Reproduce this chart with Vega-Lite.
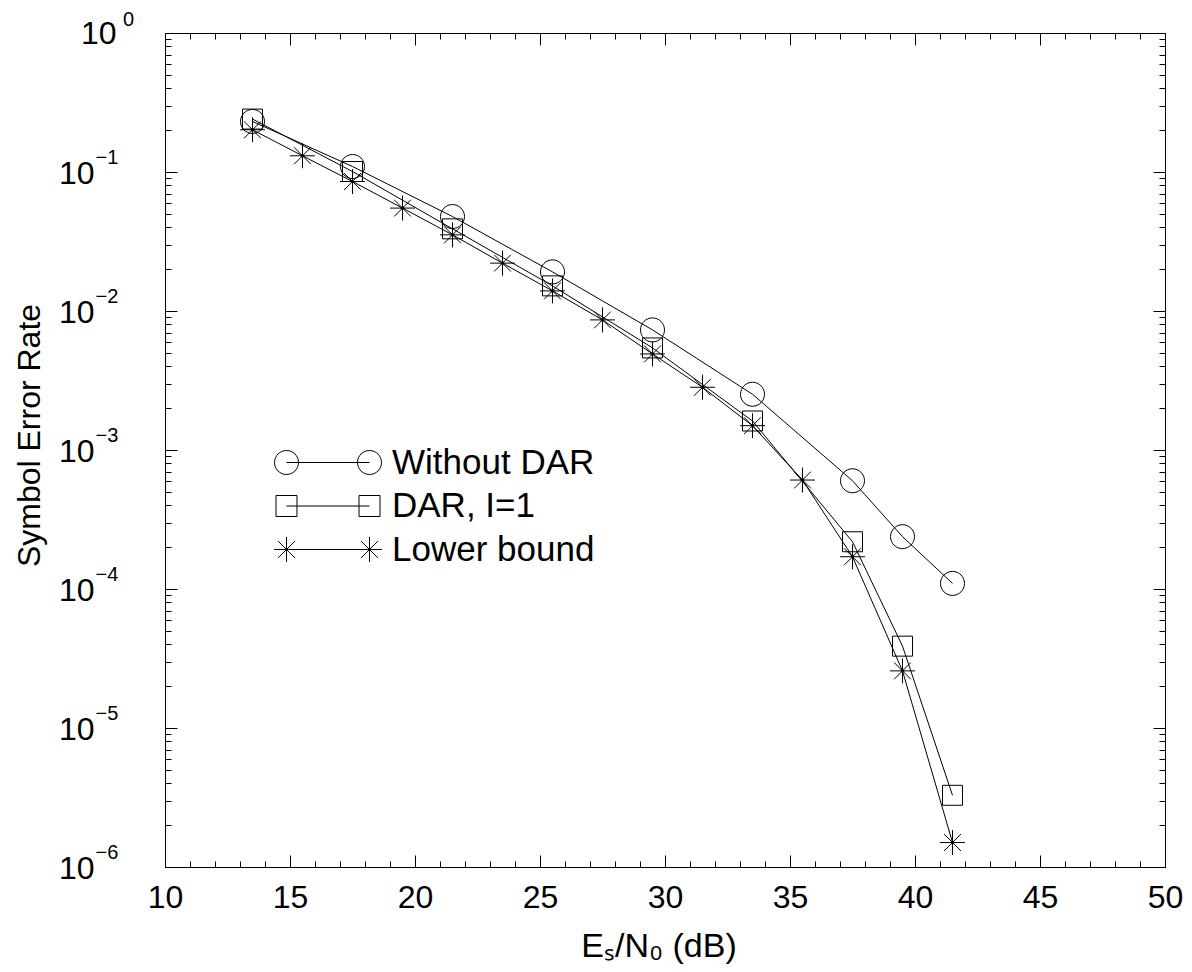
{
  "$schema": "https://vega.github.io/schema/vega-lite/v6.json",
  "autosize": "none",
  "width": 1000,
  "height": 834,
  "padding": {"left": 165, "top": 33, "right": 27, "bottom": 105},
  "background": "white",
  "data": {"values": [
    {"series": "Without DAR", "snr": 13.5, "ser": 0.2310},
    {"series": "Without DAR", "snr": 17.5, "ser": 0.1095},
    {"series": "Without DAR", "snr": 21.5, "ser": 0.0478},
    {"series": "Without DAR", "snr": 25.5, "ser": 0.01912},
    {"series": "Without DAR", "snr": 29.5, "ser": 0.00731},
    {"series": "Without DAR", "snr": 33.5, "ser": 0.002518},
    {"series": "Without DAR", "snr": 37.5, "ser": 0.000601},
    {"series": "Without DAR", "snr": 39.5, "ser": 0.000238},
    {"series": "Without DAR", "snr": 41.5, "ser": 0.0001097},
    {"series": "DAR, I=1", "snr": 13.5, "ser": 0.2403},
    {"series": "DAR, I=1", "snr": 17.5, "ser": 0.1008},
    {"series": "DAR, I=1", "snr": 21.5, "ser": 0.0390},
    {"series": "DAR, I=1", "snr": 25.5, "ser": 0.01516},
    {"series": "DAR, I=1", "snr": 29.5, "ser": 0.005425},
    {"series": "DAR, I=1", "snr": 33.5, "ser": 0.001617},
    {"series": "DAR, I=1", "snr": 37.5, "ser": 0.0002187},
    {"series": "DAR, I=1", "snr": 39.5, "ser": 0.0000388},
    {"series": "DAR, I=1", "snr": 41.5, "ser": 0.00000328},
    {"series": "Lower bound", "snr": 13.5, "ser": 0.2012},
    {"series": "Lower bound", "snr": 15.5, "ser": 0.1308},
    {"series": "Lower bound", "snr": 17.5, "ser": 0.0854},
    {"series": "Lower bound", "snr": 19.5, "ser": 0.0550},
    {"series": "Lower bound", "snr": 21.5, "ser": 0.0353},
    {"series": "Lower bound", "snr": 23.5, "ser": 0.0221},
    {"series": "Lower bound", "snr": 25.5, "ser": 0.01395},
    {"series": "Lower bound", "snr": 27.5, "ser": 0.00863},
    {"series": "Lower bound", "snr": 29.5, "ser": 0.00491},
    {"series": "Lower bound", "snr": 31.5, "ser": 0.002828},
    {"series": "Lower bound", "snr": 33.5, "ser": 0.001496},
    {"series": "Lower bound", "snr": 35.5, "ser": 0.000608},
    {"series": "Lower bound", "snr": 37.5, "ser": 0.0001706},
    {"series": "Lower bound", "snr": 39.5, "ser": 0.00002576},
    {"series": "Lower bound", "snr": 41.5, "ser": 0.0000015}
  ]},
  "resolve": {"axis": {"x": "independent", "y": "independent"}, "scale": {"shape": "independent"}},
  "layer": [
    {
      "mark": {"type": "point", "opacity": 0},
      "encoding": {
        "x": {"field": "snr", "type": "quantitative", "scale": {"domain": [10, 50], "nice": false, "zero": false},
          "axis": {"orient": "bottom", "values": [10, 15, 20, 25, 30, 35, 40, 45, 50], "ticks": false, "tickSize": 0, "domain": false,
            "labelFontSize": 32, "labelBaseline": "alphabetic", "labelPadding": 40,
            "title": "Eₛ/N₀ (dB)", "titleFontSize": 34, "titleX": 493.5, "titleY": 89, "titleAlign": "center", "titleBaseline": "alphabetic"}},
        "y": {"field": "ser", "type": "quantitative", "scale": {"type": "log", "domain": [0.000001, 1], "nice": false},
          "axis": {"orient": "left", "values": [0.1, 0.01, 0.001, 0.0001, 0.00001, 0.000001], "labelExpr": "'10'", "ticks": false, "tickSize": 0, "domain": false,
            "labelFontSize": 32, "labelAlign": "right", "labelBaseline": "alphabetic", "labelOffset": 11, "labelPadding": 71,
            "title": "Symbol Error Rate", "titleFontSize": 32, "titleAngle": -90, "titleX": -126, "titleY": 402, "titleAlign": "center", "titleBaseline": "alphabetic"}}
      }
    },
    {
      "mark": {"type": "point", "opacity": 0},
      "encoding": {
        "x": {"field": "snr", "type": "quantitative", "scale": {"domain": [10, 50], "nice": false, "zero": false},
          "axis": {"orient": "bottom", "values": [10, 15, 20, 25, 30, 35, 40, 45, 50], "labels": false, "tickSize": -12, "domain": true, "title": null}},
        "y": {"field": "ser", "type": "quantitative", "scale": {"type": "log", "domain": [0.000001, 1], "nice": false},
          "axis": {"orient": "left", "values": [1], "labelExpr": "'10'", "ticks": false, "tickSize": 0, "domain": false,
            "labelFontSize": 32, "labelAlign": "right", "labelBaseline": "alphabetic", "labelOffset": 10, "labelPadding": 49, "title": null}}
      }
    },
    {
      "mark": {"type": "point", "opacity": 0},
      "encoding": {
        "x": {"field": "snr", "type": "quantitative", "scale": {"domain": [10, 50], "nice": false, "zero": false},
          "axis": {"orient": "bottom", "values": [11, 12, 13, 14, 16, 17, 18, 19, 21, 22, 23, 24, 26, 27, 28, 29, 31, 32, 33, 34, 36, 37, 38, 39, 41, 42, 43, 44, 46, 47, 48, 49], "labels": false, "tickSize": -6, "domain": false, "title": null}},
        "y": {"field": "ser", "type": "quantitative", "scale": {"type": "log", "domain": [0.000001, 1], "nice": false},
          "axis": {"orient": "left", "values": [0.1, 0.01, 0.001, 0.0001, 0.00001, 0.000001], "labelExpr": "'−' + round(-log(datum.value)/LN10)", "ticks": false, "tickSize": 0, "domain": false,
            "labelFontSize": 20, "labelAlign": "left", "labelBaseline": "alphabetic", "labelOffset": -9, "labelPadding": 70, "title": null}}
      }
    },
    {
      "mark": {"type": "point", "opacity": 0},
      "encoding": {
        "x": {"field": "snr", "type": "quantitative", "scale": {"domain": [10, 50], "nice": false, "zero": false},
          "axis": {"orient": "top", "values": [10, 15, 20, 25, 30, 35, 40, 45, 50], "labels": false, "tickSize": -12, "domain": true, "title": null}},
        "y": {"field": "ser", "type": "quantitative", "scale": {"type": "log", "domain": [0.000001, 1], "nice": false},
          "axis": {"orient": "left", "values": [1], "labelExpr": "'0'", "ticks": false, "tickSize": 0, "domain": false,
            "labelFontSize": 20, "labelAlign": "left", "labelBaseline": "alphabetic", "labelOffset": -8, "labelPadding": 42.5, "title": null}}
      }
    },
    {
      "mark": {"type": "point", "opacity": 0},
      "encoding": {
        "x": {"field": "snr", "type": "quantitative", "scale": {"domain": [10, 50], "nice": false, "zero": false},
          "axis": {"orient": "top", "values": [11, 12, 13, 14, 16, 17, 18, 19, 21, 22, 23, 24, 26, 27, 28, 29, 31, 32, 33, 34, 36, 37, 38, 39, 41, 42, 43, 44, 46, 47, 48, 49], "labels": false, "tickSize": -6, "domain": false, "title": null}},
        "y": {"field": "ser", "type": "quantitative", "scale": {"type": "log", "domain": [0.000001, 1], "nice": false},
          "axis": {"orient": "left", "values": [1, 0.1, 0.01, 0.001, 0.0001, 0.00001, 0.000001], "labels": false, "tickSize": -12, "domain": true, "title": null}}
      }
    },
    {
      "mark": {"type": "point", "opacity": 0},
      "encoding": {
        "x": {"field": "snr", "type": "quantitative", "scale": {"domain": [10, 50], "nice": false, "zero": false}, "axis": null},
        "y": {"field": "ser", "type": "quantitative", "scale": {"type": "log", "domain": [0.000001, 1], "nice": false},
          "axis": {"orient": "left", "values": [2e-6, 3e-6, 4e-6, 5e-6, 6e-6, 7e-6, 8e-6, 9e-6, 2e-5, 3e-5, 4e-5, 5e-5, 6e-5, 7e-5, 8e-5, 9e-5, 2e-4, 3e-4, 4e-4, 5e-4, 6e-4, 7e-4, 8e-4, 9e-4, 0.002, 0.003, 0.004, 0.005, 0.006, 0.007, 0.008, 0.009, 0.02, 0.03, 0.04, 0.05, 0.06, 0.07, 0.08, 0.09, 0.2, 0.3, 0.4, 0.5, 0.6, 0.7, 0.8, 0.9], "labels": false, "tickSize": -6, "domain": false, "title": null}}
      }
    },
    {
      "mark": {"type": "point", "opacity": 0},
      "encoding": {
        "x": {"field": "snr", "type": "quantitative", "scale": {"domain": [10, 50], "nice": false, "zero": false}, "axis": null},
        "y": {"field": "ser", "type": "quantitative", "scale": {"type": "log", "domain": [0.000001, 1], "nice": false},
          "axis": {"orient": "right", "values": [1, 0.1, 0.01, 0.001, 0.0001, 0.00001, 0.000001], "labels": false, "tickSize": -12, "domain": true, "title": null}}
      }
    },
    {
      "mark": {"type": "point", "opacity": 0},
      "encoding": {
        "x": {"field": "snr", "type": "quantitative", "scale": {"domain": [10, 50], "nice": false, "zero": false}, "axis": null},
        "y": {"field": "ser", "type": "quantitative", "scale": {"type": "log", "domain": [0.000001, 1], "nice": false},
          "axis": {"orient": "right", "values": [2e-6, 3e-6, 4e-6, 5e-6, 6e-6, 7e-6, 8e-6, 9e-6, 2e-5, 3e-5, 4e-5, 5e-5, 6e-5, 7e-5, 8e-5, 9e-5, 2e-4, 3e-4, 4e-4, 5e-4, 6e-4, 7e-4, 8e-4, 9e-4, 0.002, 0.003, 0.004, 0.005, 0.006, 0.007, 0.008, 0.009, 0.02, 0.03, 0.04, 0.05, 0.06, 0.07, 0.08, 0.09, 0.2, 0.3, 0.4, 0.5, 0.6, 0.7, 0.8, 0.9], "labels": false, "tickSize": -6, "domain": false, "title": null}}
      }
    },
    {
      "mark": {"type": "line", "color": "#000", "strokeWidth": 1},
      "encoding": {
        "x": {"field": "snr", "type": "quantitative", "scale": {"domain": [10, 50], "nice": false, "zero": false}, "axis": null},
        "y": {"field": "ser", "type": "quantitative", "scale": {"type": "log", "domain": [0.000001, 1], "nice": false}, "axis": null},
        "detail": {"field": "series", "type": "nominal"}
      }
    },
    {
      "mark": {"type": "point", "filled": false, "color": "#000", "strokeWidth": 1, "size": 576, "opacity": 1},
      "encoding": {
        "x": {"field": "snr", "type": "quantitative", "scale": {"domain": [10, 50], "nice": false, "zero": false}, "axis": null},
        "y": {"field": "ser", "type": "quantitative", "scale": {"type": "log", "domain": [0.000001, 1], "nice": false}, "axis": null},
        "shape": {"field": "series", "type": "nominal",
          "scale": {"domain": ["Without DAR", "DAR, I=1", "Lower bound"],
            "range": [
              "M1,0A1,1,0,1,1,-1,0A1,1,0,1,1,1,0Z",
              "M-0.833,-0.833L0.833,-0.833L0.833,0.833L-0.833,0.833Z",
              "M0,-1.04L0,1.04M-1.04,0L1.04,0M-0.7,-0.7L0.7,0.7M-0.7,0.7L0.7,-0.7M0.12,0A0.12,0.12,0,1,1,-0.12,0A0.12,0.12,0,1,1,0.12,0"
            ]},
          "legend": null
        }
      }
    },
    {
      "mark": {"type": "point", "filled": false, "color": "#000", "strokeWidth": 1, "size": 576, "opacity": 0},
      "encoding": {
        "x": {"field": "snr", "type": "quantitative", "scale": {"domain": [10, 50], "nice": false, "zero": false}, "axis": null},
        "y": {"field": "ser", "type": "quantitative", "scale": {"type": "log", "domain": [0.000001, 1], "nice": false}, "axis": null},
        "shape": {"field": "series", "type": "nominal",
          "scale": {"domain": ["Without DAR", "DAR, I=1", "Lower bound"],
            "range": [
              "M-6.917,0L0,0M1,0A1,1,0,1,1,-1,0A1,1,0,1,1,1,0ZM-5.917,0A1,1,0,1,1,-7.917,0A1,1,0,1,1,-5.917,0Z",
              "M-6.917,0L0,0M-0.875,-0.875L0.875,-0.875L0.875,0.875L-0.875,0.875ZM-7.792,-0.875L-6.042,-0.875L-6.042,0.875L-7.792,0.875Z",
              "M-6.917,0L0,0M0,-1.04L0,1.04M-1.04,0L1.04,0M-0.7,-0.7L0.7,0.7M-0.7,0.7L0.7,-0.7M0.12,0A0.12,0.12,0,1,1,-0.12,0A0.12,0.12,0,1,1,0.12,0M-6.917,-1.04L-6.917,1.04M-7.957,0L-5.877,0M-7.617,-0.7L-6.217,0.7M-7.617,0.7L-6.217,-0.7M-6.797,0A0.12,0.12,0,1,1,-7.037,0A0.12,0.12,0,1,1,-6.797,0"
            ]},
          "legend": {
            "title": null, "orient": "none", "legendX": 187, "legendY": 412, "padding": 0, "rowPadding": 7.5,
            "labelFontSize": 35, "labelFont": "Liberation Sans", "labelColor": "#000", "labelOffset": 5, "labelLimit": 0,
            "symbolSize": 576, "symbolStrokeWidth": 1, "symbolStrokeColor": "#000", "symbolFillColor": "transparent", "symbolOpacity": 1
          }
        }
      }
    }
  ],
  "config": {
    "view": {"stroke": null},
    "font": "Liberation Sans",
    "axis": {"grid": false, "domainColor": "#000", "tickColor": "#000", "labelColor": "#000", "titleColor": "#000",
      "labelFont": "Liberation Sans", "titleFont": "Liberation Sans", "titleFontWeight": "normal",
      "labelFlush": false, "labelOverlap": false, "domainWidth": 1, "tickWidth": 1}
  }
}
